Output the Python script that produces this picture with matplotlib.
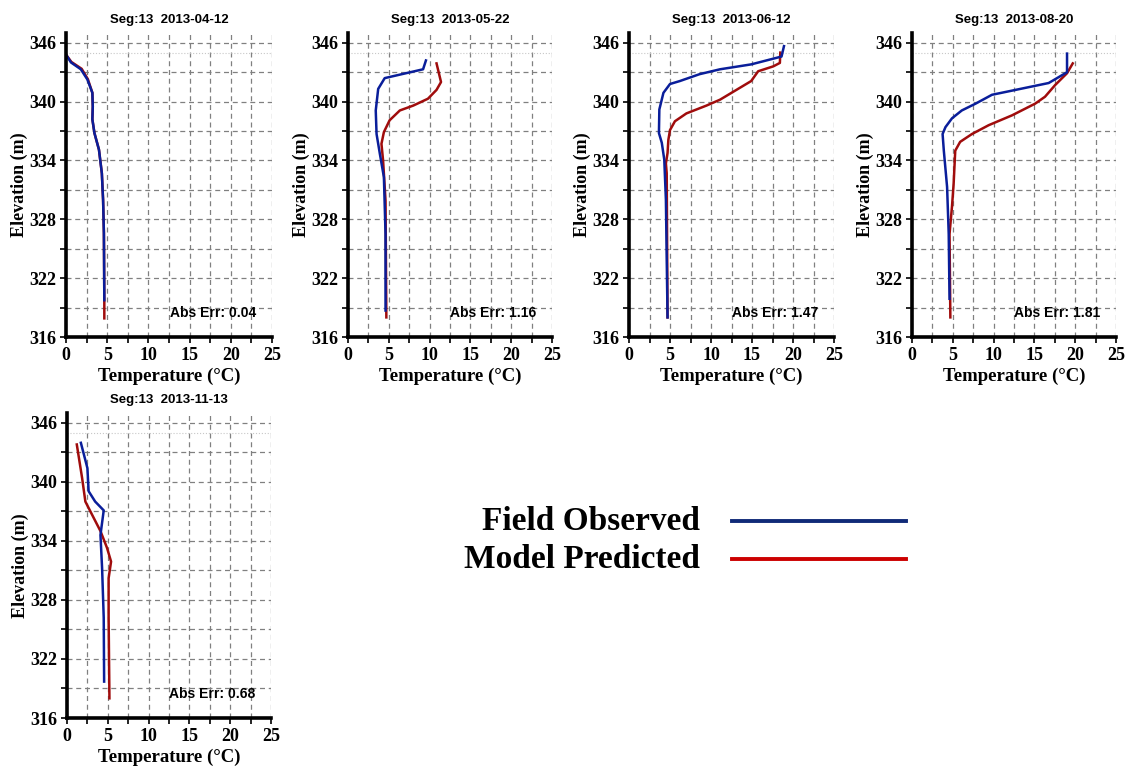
import numpy as np
import matplotlib.pyplot as plt

dates = ['2013-04-12', '2013-05-22', '2013-06-12', '2013-08-20', '2013-11-13']
abs_err = ['0.04', '1.16', '1.47', '1.81', '0.68']

# observed profiles (temperature, elevation)
obs_t = [
    [0.0, 0.6, 1.8, 2.6, 3.2, 3.25, 3.2, 3.45, 4.0, 4.35, 4.5, 4.6, 4.65],
    [9.55, 9.2, 4.5, 3.7, 3.4, 3.5, 3.9, 4.4, 4.6, 4.6],
    [18.9, 18.6, 14.9, 11.1, 8.6, 6.2, 5.0, 4.2, 3.7, 3.65, 4.0, 4.3, 4.5, 4.7],
    [19.0, 19.0, 16.75, 12.7, 9.8, 7.8, 6.1, 4.9, 4.1, 3.75, 3.9, 4.3, 4.5, 4.6],
    [1.7, 2.5, 2.65, 3.45, 4.5, 4.1, 4.3, 4.5, 4.55],
]
obs_z = [
    [344.8, 344.0, 343.3, 342.25, 340.9, 339.5, 338.2, 336.8, 335.1, 332.7, 330.0, 326.6, 319.75],
    [344.2, 343.3, 342.4, 341.3, 339.1, 336.7, 334.7, 332.3, 326.5, 318.7],
    [345.66, 344.6, 343.8, 343.3, 342.8, 342.1, 341.8, 340.9, 339.2, 336.8, 335.8, 334.1, 330.0, 318.0],
    [344.9, 343.0, 341.9, 341.2, 340.7, 339.8, 339.1, 338.3, 337.4, 336.7, 335.0, 331.3, 326.5, 319.9],
    [343.97, 341.4, 339.05, 338.0, 337.1, 334.6, 331.25, 326.2, 319.7],
]

# model profiles (temperature, elevation)
mod_t = [
    [0.0, 0.65, 1.9, 2.65, 3.2, 3.25, 3.2, 3.45, 4.0, 4.35, 4.5, 4.6, 4.65, 4.65],
    [10.85, 11.4, 10.85, 9.8, 8.0, 6.35, 5.1, 4.4, 4.1, 4.3, 4.6, 4.7],
    [18.45, 18.4, 17.6, 15.75, 14.9, 13.1, 11.1, 9.45, 7.0, 5.6, 5.0, 4.8, 4.7, 4.5, 4.6, 4.7],
    [19.7, 19.0, 17.55, 16.3, 15.1, 12.25, 9.4, 7.35, 5.9, 5.3, 5.1, 4.9, 4.6, 4.7],
    [1.2, 1.85, 2.25, 3.05, 4.1, 4.9, 5.4, 5.1, 5.1, 5.2],
]
mod_z = [
    [344.8, 344.05, 343.35, 342.3, 340.9, 339.5, 338.2, 336.8, 335.1, 332.7, 330.0, 326.6, 319.75, 317.9],
    [343.9, 342.0, 341.2, 340.3, 339.6, 339.1, 338.1, 336.9, 335.7, 334.0, 329.9, 318.0],
    [345.0, 343.95, 343.6, 343.1, 342.1, 341.2, 340.2, 339.6, 338.8, 338.0, 337.1, 336.1, 334.75, 333.7, 332.7, 318.0],
    [343.9, 342.9, 341.7, 340.5, 339.8, 338.6, 337.6, 336.7, 335.9, 335.0, 331.6, 329.3, 326.5, 318.0],
    [343.8, 340.4, 338.0, 336.7, 335.0, 333.3, 331.9, 330.2, 326.2, 318.0],
]

blue = '#0a1e9a'
red = '#a00c0c'

W, H = 1134, 771
fig = plt.figure(figsize=(W / 100, H / 100), dpi=100)

# axes boxes in pixels: left, top, right, bottom
boxes = [(66, 33, 272, 337), (348, 33, 552, 337), (629, 33, 834, 337),
         (912, 33, 1116, 337), (67, 413, 271, 718)]

serif = {'family': 'Liberation Serif', 'weight': 'bold'}
sans = {'family': 'Liberation Sans', 'weight': 'bold'}

for i in range(5):
    l, t, r, b = boxes[i]
    ax = fig.add_axes([l / W, 1 - b / H, (r - l) / W, (b - t) / H])
    ax.set_xlim(0, 25)
    ax.set_ylim(316, 347)
    ax.set_xticks(np.arange(0, 26, 5))
    ax.set_xticks(np.arange(0, 26, 2.5), minor=True)
    ax.set_yticks(np.arange(316, 347, 6))
    ax.set_yticks(np.arange(316, 347, 3), minor=True)
    ax.grid(True, which='both', color='#808080', linestyle=(0, (4, 3)), linewidth=0.9)
    ax.axhline(345, color='#c8c8c8', linestyle=':', linewidth=0.8)
    ax.set_axisbelow(True)
    for s in ['top', 'right']:
        ax.spines[s].set_visible(False)
    for s in ['left', 'bottom']:
        ax.spines[s].set_linewidth(2.6)
    ax.tick_params(which='both', direction='out', length=4, width=1.2, pad=3)
    for lab in ax.get_xticklabels() + ax.get_yticklabels():
        lab.set_fontfamily('Liberation Serif')
        lab.set_fontweight('bold')
        lab.set_fontsize(13)

    ax.plot(mod_t[i], mod_z[i], color=red, linewidth=1.8)
    ax.plot(obs_t[i], obs_z[i], color=blue, linewidth=1.8)

    ax.set_title('Seg:13  ' + dates[i], fontdict=sans, fontsize=9.5, pad=7)
    ax.set_xlabel('Temperature (°C)', fontdict=serif, fontsize=13.5, labelpad=3)
    ax.set_ylabel('Elevation (m)', fontdict=serif, fontsize=13, labelpad=1)
    ax.text(23.1, 318.4, 'Abs Err: ' + abs_err[i], fontdict=sans, fontsize=10,
            ha='right', va='center')

# legend drawn as text and lines
fig.text(700 / W, 1 - 521 / H, 'Field Observed', ha='right', va='center',
         family='Liberation Serif', weight='bold', fontsize=24)
fig.text(700 / W, 1 - 559 / H, 'Model Predicted', ha='right', va='center',
         family='Liberation Serif', weight='bold', fontsize=24)
fig.add_artist(plt.Line2D([732 / W, 906 / W], [1 - 521 / H, 1 - 521 / H],
                          color='#102a78', linewidth=2.8))
fig.add_artist(plt.Line2D([732 / W, 906 / W], [1 - 559 / H, 1 - 559 / H],
                          color='#cc0000', linewidth=2.8))

fig.savefig('out.png', dpi=100)
